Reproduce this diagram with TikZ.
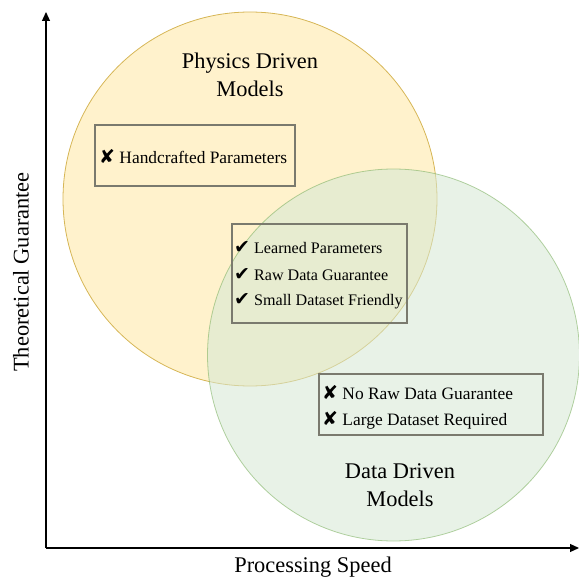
\documentclass[tikz,border=0pt]{standalone}
\usepackage{fontspec}
\setmainfont{Liberation Serif}
\newfontfamily\symfont{DejaVu Sans}
\usetikzlibrary{arrows.meta}
\definecolor{yfill}{HTML}{FFF2CC}
\definecolor{ydraw}{HTML}{D6B656}
\definecolor{gfill}{HTML}{D5E8D4}
\definecolor{gdraw}{HTML}{82B366}
\definecolor{boxdraw}{HTML}{7A7A6E}
\tikzset{
  bigtitle/.style={font=\fontsize{22.4}{28}\selectfont, align=center},
  axlabel/.style={font=\fontsize{22.4}{26}\selectfont},
  itemtxt/.style={font=\fontsize{17.4}{20}\selectfont, anchor=west, inner sep=0pt},
  itemsmall/.style={font=\fontsize{16.1}{19}\selectfont, anchor=west, inner sep=0pt},
  panel/.style={draw=boxdraw, line width=2.2pt},
}
\newcommand{\yes}{{\symfont\fontsize{19}{20}\selectfont\char"2714}}
\newcommand{\no}{{\symfont\fontsize{19}{20}\selectfont\char"2718}}
\begin{document}
\begin{tikzpicture}[x=1pt,y=-1pt]
\useasboundingbox (0,0) rectangle (579,578);
% circles
\fill[yfill] (250,199) circle (187);
\draw[ydraw, line width=0.8pt] (250,199) circle (187);
\fill[gfill, fill opacity=0.55] (393.5,355) circle (186);
\draw[gdraw, draw opacity=0.6, line width=0.8pt] (393.5,355) circle (186);
% axes
\coordinate (o) at (46,548);
\coordinate (ytop) at (46,12);
\coordinate (xend) at (579,548);
\draw[line width=1.2pt, -{Triangle[length=9pt,width=8pt]}] (o) -- (ytop);
\draw[line width=1.2pt, -{Triangle[length=9pt,width=8pt]}] (o) -- (xend);
\node[axlabel, rotate=90] (ylab) at (21,272) {Theoretical Guarantee};
\node[axlabel] (xlab) at (313,567) {Processing Speed};
% titles
\node[bigtitle] (phys) at (250,75) {Physics Driven\\Models};
\node[bigtitle] (data) at (400,485) {Data Driven\\Models};
% boxes
\draw[panel] (95,125) rectangle (295,186);
\node[itemtxt] (h1) at (99,157) {\no\ Handcrafted Parameters};
\draw[panel] (232,224) rectangle (407,323);
\node[itemsmall] (l1) at (234,248) {\yes\ Learned Parameters};
\node[itemsmall] (l2) at (234,275) {\yes\ Raw Data Guarantee};
\node[itemsmall] (l3) at (234,301) {\yes\ Small Dataset Friendly};
\draw[panel] (319,374) rectangle (543,435);
\node[itemtxt] (n1) at (322,393) {\no\ No Raw Data Guarantee};
\node[itemtxt] (n2) at (322,420) {\no\ Large Dataset Required};
\end{tikzpicture}
\end{document}
